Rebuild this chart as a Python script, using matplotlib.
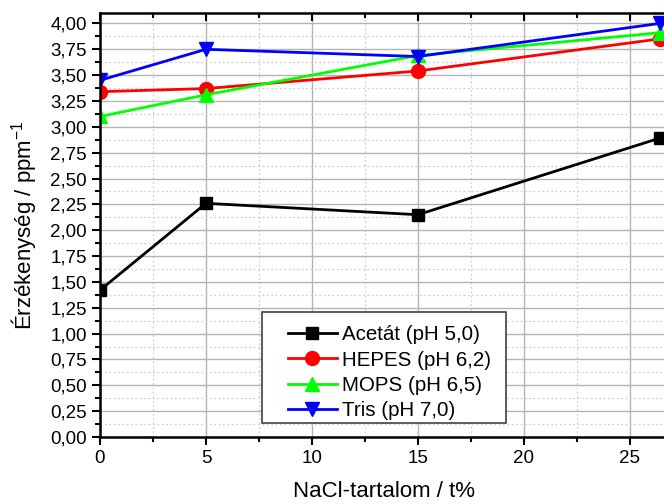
import numpy as np
import matplotlib.pyplot as plt
from matplotlib.ticker import MultipleLocator, FuncFormatter
from matplotlib.legend_handler import HandlerLine2D

plt.rcParams['font.family'] = ['Liberation Sans', 'DejaVu Sans']

# NaCl-tartalom (t%)
nacl = [0, 5, 15, 26.4]

# Érzékenység (ppm^-1)
acetat = [1.42, 2.26, 2.15, 2.89]
hepes = [3.34, 3.37, 3.54, 3.85]
mops = [3.10, 3.31, 3.69, 3.91]
tris = [3.45, 3.75, 3.68, 4.00]

labels = ['Acetát (pH 5,0)', 'HEPES (pH 6,2)', 'MOPS (pH 6,5)', 'Tris (pH 7,0)']


class ShiftedHandler(HandlerLine2D):
    # a jelmagyarázat vonalát jobbra tolja (Origin-szerű bal margó)
    def __init__(self, shift, **kw):
        super().__init__(**kw)
        self.shift = shift

    def create_artists(self, legend, orig_handle, xdescent, ydescent, width, height, fontsize, trans):
        return super().create_artists(legend, orig_handle, xdescent - self.shift, ydescent,
                                      width - self.shift, height, fontsize, trans)


fig = plt.figure(figsize=(6.64, 5.04), dpi=100)
# a jobb oldali tengely kilóg a képből, mint az eredetin
ax = fig.add_axes([0.1506, 0.133, 0.8554, 0.841])

# Rácsvonalak
ax.grid(which='major', color='#b4b4b4', linestyle='-', linewidth=1.0)
ax.grid(which='minor', color='#cfcfcf', linestyle=(0, (1.5, 2)), linewidth=0.9)
ax.set_axisbelow(True)

l1, = ax.plot(nacl, acetat, color='black', marker='s', markersize=9, linewidth=2, label=labels[0])
l2, = ax.plot(nacl, hepes, color='red', marker='o', markersize=10, linewidth=2, label=labels[1])
l3, = ax.plot(nacl, mops, color='#00ff00', marker='^', markersize=10, linewidth=2, label=labels[2])
l4, = ax.plot(nacl, tris, color='blue', marker='v', markersize=10, linewidth=2, label=labels[3])

ax.set_xlim(0, 26.8)
ax.set_ylim(0, 4.1)

ax.xaxis.set_major_locator(MultipleLocator(5))
ax.xaxis.set_minor_locator(MultipleLocator(2.5))
ax.yaxis.set_major_locator(MultipleLocator(0.25))
ax.yaxis.set_minor_locator(MultipleLocator(0.125))
ax.yaxis.set_major_formatter(FuncFormatter(lambda v, p: '{:.2f}'.format(v).replace('.', ',')))

ax.tick_params(axis='both', which='major', direction='out', length=6, width=1.5,
               labelsize=13.5, top=True, right=True)
ax.tick_params(axis='both', which='minor', direction='out', length=3.5, width=1.5,
               top=True, right=True)
ax.xaxis.set_tick_params(which='both', labeltop=False)
for t in ax.xaxis.get_ticklines(minor=False)[1::2] + ax.xaxis.get_ticklines(minor=True)[1::2]:
    t.set_marker(3)  # befelé mutató felső tickek
for t in ax.yaxis.get_ticklines(minor=False)[1::2] + ax.yaxis.get_ticklines(minor=True)[1::2]:
    t.set_marker(1)  # befelé mutató jobb oldali tickek

for s in ax.spines.values():
    s.set_linewidth(1.8)

ax.set_xlabel('NaCl-tartalom / t%', fontsize=16, labelpad=10)
ax.set_ylabel('Érzékenység / ppm$^{\\mathregular{-1}}$', fontsize=16, labelpad=8)

fs = 14.8
h = ShiftedHandler(shift=1.12 * fs)
leg = ax.legend([l1, l2, l3, l4], [s + '  ' for s in labels],
                handler_map={l1: h, l2: h, l3: h, l4: h},
                loc='lower left', bbox_to_anchor=(0.285, 0.033), fontsize=fs,
                title=' ', title_fontsize=2,
                frameon=True, fancybox=False, edgecolor='#404040', framealpha=1,
                handlelength=3.5, handletextpad=0.25, borderpad=0.15, labelspacing=0.3,
                borderaxespad=0)
leg.get_frame().set_linewidth(1.2)

fig.savefig('out.png', dpi=100)
